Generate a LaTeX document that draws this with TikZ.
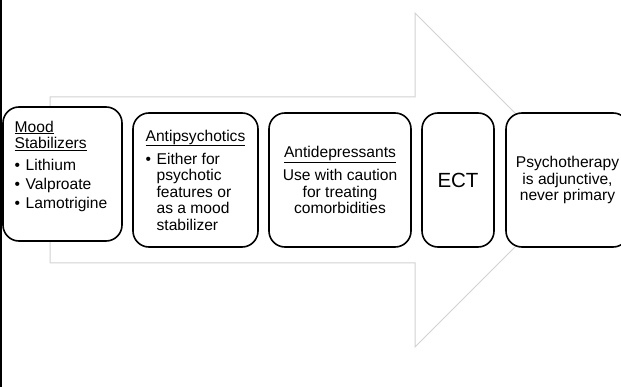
\documentclass[tikz,border=0pt]{standalone}
\usepackage{fontspec}
\setmainfont{Liberation Sans}
\usetikzlibrary{positioning}
\newcommand{\bullitem}{\makebox[11pt][l]{\textbullet}}
\newcommand{\bullcont}{\hspace*{11pt}}

\begin{document}
\begin{tikzpicture}[
  x=1pt, y=-1pt,
  txt/.style={font=\fontsize{15.6}{16.5}\selectfont},
  stagebox/.style={rectangle, draw=black, line width=1.6pt, rounded corners=16pt, fill=white, minimum height=134pt, inner sep=0pt},
  bigarrow/.style={draw=gray!35, line width=1pt, fill=white}
]
\useasboundingbox (0,0) rectangle (621,387);
\clip (0,0) rectangle (621,387);

% Frame edge and the big arrow behind
\draw[line width=2pt] (1,0) -- (1,387);
\draw[bigarrow] (50,97) -- (415,97) -- (415,13) -- (582,180) -- (415,347) -- (415,263) -- (50,263) -- cycle;

% Stages
\node[stagebox, minimum width=119pt] (mood) at (62.5,174) {};
\node[txt, align=left] (moodtxt) at (61,166) {\underline{Mood}\\ \underline{Stabilizers}\\[5pt] \bullitem Lithium\\[2.5pt] \bullitem Valproate\\[2.5pt] \bullitem Lamotrigine};

\node[stagebox, txt, align=left, minimum width=125pt, right=9.4pt of mood, yshift=-6pt] (antipsy) {\underline{Antipsychotics}\\[5.5pt] \bullitem Either for\\ \bullcont psychotic\\ \bullcont features or\\ \bullcont as a mood\\ \bullcont stabilizer};
\node[stagebox, txt, align=center, minimum width=142pt, right=9.4pt of antipsy] (antidep) {\underline{Antidepressants}\\[6pt] Use with caution\\ for treating\\ comorbidities};
\node[stagebox, font=\fontsize{20.5}{24}\selectfont, minimum width=72pt, right=9.4pt of antidep] (ect) {ECT};
\node[stagebox, txt, align=center, minimum width=123pt, right=10.4pt of ect] (psycho) {Psychotherapy\\ is adjunctive,\\ never primary};

\end{tikzpicture}
\end{document}
